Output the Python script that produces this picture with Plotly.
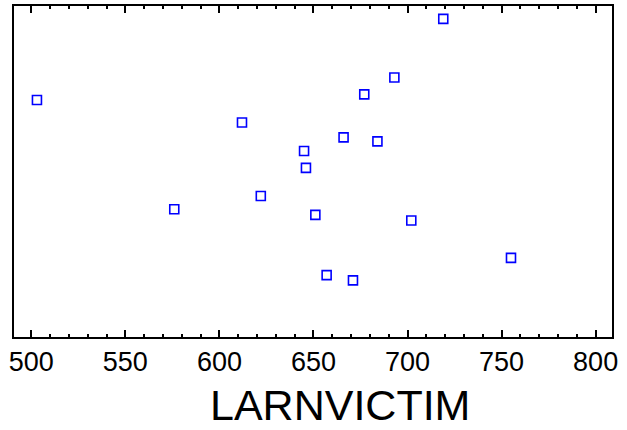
import plotly.graph_objects as go

larnvictim = [503, 612, 645, 646, 622, 719, 693, 677, 666, 684, 576, 651, 702, 755, 657, 671]
response = [71.6, 64.8, 56.2, 51.1, 42.6, 96.1, 78.4, 73.3, 60.3, 59.1, 38.6, 36.9, 35.2, 23.9, 18.7, 17.1]
x_ticks = [500, 550, 600, 650, 700, 750, 800]

fig = go.Figure()
fig.add_trace(go.Scatter(
    x=larnvictim, y=response, mode="markers",
    marker=dict(symbol="square-open", size=9, color="#0000ff", line=dict(width=1.6, color="#0000ff")),
    showlegend=False, hoverinfo="x+y",
))

plot_l, plot_r, plot_t, plot_b = 14, 15, 6, 93
plot_w = 627 - plot_l - plot_r
plot_h = 430 - plot_t - plot_b

fig.update_layout(
    width=627, height=430,
    margin=dict(l=plot_l, r=plot_r, t=plot_t, b=plot_b, autoexpand=False),
    paper_bgcolor="white", plot_bgcolor="white",
    font=dict(family="Liberation Sans, Arial, sans-serif", color="black"),
    xaxis=dict(
        range=[490.8, 808.7], tickvals=x_ticks, ticktext=[str(v) for v in x_ticks],
        ticks="inside", ticklen=7, tickwidth=2, tickcolor="black",
        showline=True, linewidth=2, linecolor="black", mirror="allticks",
        showgrid=False, zeroline=False, automargin=False,
        tickfont=dict(size=27),
        minor=dict(ticks="inside", dtick=10, tick0=500, ticklen=3, tickwidth=1.5, tickcolor="black", showgrid=False),
    ),
    yaxis=dict(
        range=[0, 100], showticklabels=False, ticks="",
        showline=True, linewidth=2, linecolor="black", mirror=True,
        showgrid=False, zeroline=False, automargin=False,
    ),
    annotations=[dict(
        text="LARNVICTIM", x=(340 - plot_l) / plot_w, y=(430 - plot_b - 405) / plot_h,
        xref="paper", yref="paper", xanchor="center", yanchor="middle",
        showarrow=False, font=dict(size=43, color="black"),
    )],
)
fig.write_html(
    "out.html",
    config={"displayModeBar": False},
    post_script="document.body.style.margin='0';document.body.style.padding='0';",
)
